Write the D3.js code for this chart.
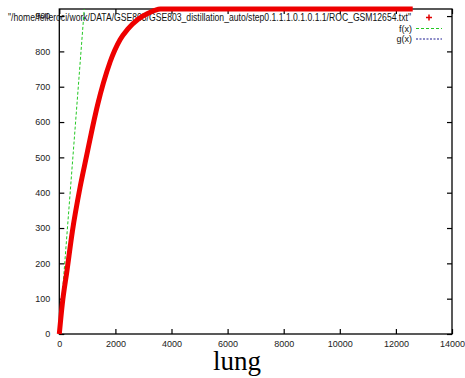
<!DOCTYPE html>
<html>
<head>
<meta charset="utf-8">
<script src="https://cdn.jsdelivr.net/npm/d3@7"></script>
<style>
  html, body { margin: 0; padding: 0; background: #fff; }
  svg { display: block; }
</style>
</head>
<body>
<script>
// ---- data ----
const rocX = [0, 107, 275, 465, 740, 975, 1190, 1370, 1570, 1810, 2165, 2440, 2820, 3170, 3400, 3600, 12600];
const rocY = [0, 85, 180, 290, 415, 505, 587, 650, 710, 770, 833, 863, 892, 908, 916, 920, 920];
const fX = [0, 890];
const fY = [0, 920];
const xTicks = [0, 2000, 4000, 6000, 8000, 10000, 12000, 14000];
const yTicks = [0, 100, 200, 300, 400, 500, 600, 700, 800, 900];
const legendLabels = ['"/home/felleroci/work/DATA/GSE803/GSE803_distillation_auto/step0.1.1.1.0.1.0.1.1/ROC_GSM12654.txt"', 'f(x)', 'g(x)'];
const title = "lung";

const W = 465, H = 378;
const svg = d3.select("body").append("svg").attr("width", W).attr("height", H);

const x = d3.scaleLinear().domain([0, 14000]).range([59.3, 452]);
const y = d3.scaleLinear().domain([0, 920]).range([334, 9]);

const axisFont = "'Liberation Sans', Arial, Helvetica, sans-serif";

// border
svg.append("rect")
  .attr("x", x(0)).attr("y", y(920))
  .attr("width", x(14000) - x(0)).attr("height", y(0) - y(920))
  .attr("fill", "none").attr("stroke", "#000").attr("stroke-width", 1.3);

function styleAxis(g) {
  g.select(".domain").remove();
  g.selectAll(".tick line").attr("stroke", "#000").attr("stroke-width", 1.2);
  g.selectAll(".tick text").attr("fill", "#222").style("font-family", axisFont).style("font-size", "9px");
}

svg.append("g").attr("transform", `translate(0,${y(0)})`)
  .call(d3.axisBottom(x).tickValues(xTicks).tickSize(-5).tickSizeOuter(0).tickPadding(7).tickFormat(d3.format("d")))
  .call(styleAxis);
svg.append("g").attr("transform", `translate(0,${y(920)})`)
  .call(d3.axisTop(x).tickValues(xTicks).tickSize(-5).tickSizeOuter(0).tickFormat(""))
  .call(styleAxis);
svg.append("g").attr("transform", `translate(${x(0)},0)`)
  .call(d3.axisLeft(y).tickValues(yTicks).tickSize(-5).tickSizeOuter(0).tickPadding(9).tickFormat(d3.format("d")))
  .call(styleAxis);
svg.append("g").attr("transform", `translate(${x(14000)},0)`)
  .call(d3.axisRight(y).tickValues(yTicks).tickSize(-5).tickSizeOuter(0).tickFormat(""))
  .call(styleAxis);

// legend
const legY = [17.5, 28.5, 39];
svg.append("text")
  .attr("x", 8).attr("y", legY[0] + 3.5)
  .attr("textLength", 403).attr("lengthAdjust", "spacingAndGlyphs")
  .style("font-family", axisFont).style("font-size", "10px").attr("fill", "#111")
  .text(legendLabels[0]);
[1, 2].forEach(i => {
  svg.append("text")
    .attr("x", 412).attr("y", legY[i] + 3.2)
    .attr("text-anchor", "end")
    .style("font-family", axisFont).style("font-size", "9px").attr("fill", "#111")
    .text(legendLabels[i]);
});
// legend samples
svg.append("path")
  .attr("d", `M${429 - 3},${legY[0]}h6M${429},${legY[0] - 3}v6`)
  .attr("stroke", "#e00000").attr("stroke-width", 1.5);
svg.append("line").attr("x1", 416).attr("x2", 442).attr("y1", legY[1]).attr("y2", legY[1])
  .attr("stroke", "#22c822").attr("stroke-width", 1).attr("stroke-dasharray", "3,2");
svg.append("line").attr("x1", 416).attr("x2", 442).attr("y1", legY[2]).attr("y2", legY[2])
  .attr("stroke", "#1a1a90").attr("stroke-width", 1).attr("stroke-dasharray", "2,1.5");

// f(x) line
const line = d3.line().x(d => x(d[0])).y(d => y(d[1]));
svg.append("path")
  .attr("d", line(fX.map((v, i) => [v, fY[i]])))
  .attr("fill", "none").attr("stroke", "#22c822").attr("stroke-width", 1).attr("stroke-dasharray", "3,2");

// ROC curve
svg.append("path")
  .attr("d", d3.line().curve(d3.curveMonotoneX).x(d => x(d[0])).y(d => y(d[1]))(rocX.map((v, i) => [v, rocY[i]])))
  .attr("fill", "none").attr("stroke", "#ee0000").attr("stroke-width", 5)
  .attr("stroke-linejoin", "round").attr("stroke-linecap", "butt");

// title
svg.append("text")
  .attr("x", 237).attr("y", 370).attr("text-anchor", "middle")
  .style("font-family", "'Liberation Serif', 'Times New Roman', serif").style("font-size", "27px")
  .attr("fill", "#000").text(title);
</script>
</body>
</html>
